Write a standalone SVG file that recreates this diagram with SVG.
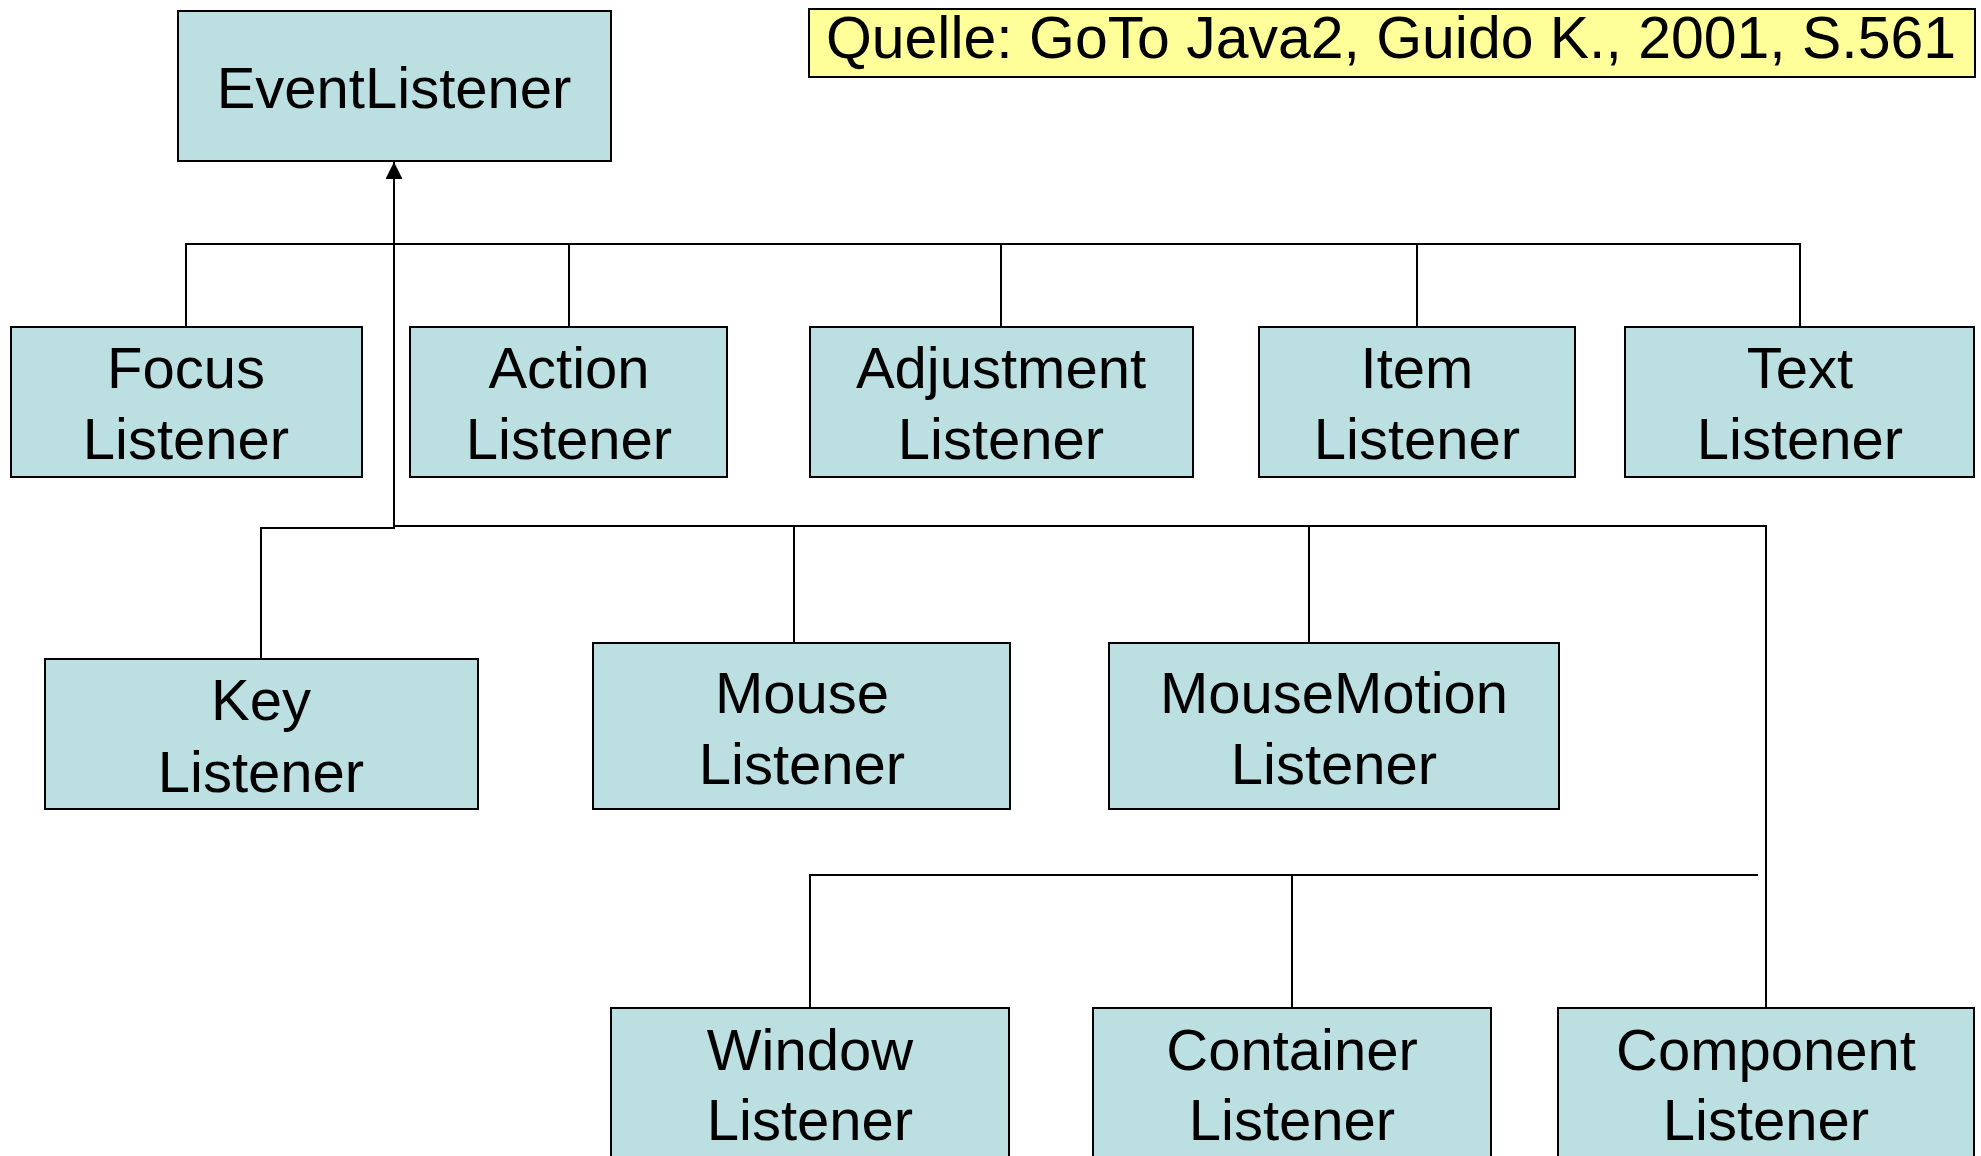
<svg xmlns="http://www.w3.org/2000/svg" width="1981" height="1156" viewBox="0 0 1981 1156">
<style>
.box{fill:#BCE0E2;stroke:#000;stroke-width:2}
.lbl{font-family:"Liberation Sans",Arial,sans-serif;font-size:58px;fill:#000;text-anchor:middle}
.ln{fill:none;stroke:#000;stroke-width:2}
</style>
<defs>
<marker id="arr" markerWidth="18" markerHeight="17" refX="17" refY="8.5" orient="auto" markerUnits="userSpaceOnUse">
<path d="M0,0 L17,8.5 L0,17 Z" fill="#000"/>
</marker>
</defs>
<rect width="1981" height="1156" fill="#fff"/>
<g id="connectors">
<line class="ln" x1="394" y1="526" x2="394" y2="162" marker-end="url(#arr)"/>
<polyline class="ln" points="186,327 186,244 1800,244 1800,327"/>
<line class="ln" x1="569" y1="244" x2="569" y2="327"/>
<line class="ln" x1="1001" y1="244" x2="1001" y2="327"/>
<line class="ln" x1="1417" y1="244" x2="1417" y2="327"/>
<polyline class="ln" points="394,526 394,528 261,528 261,659"/>
<polyline class="ln" points="394,526 1766,526 1766,1008"/>
<line class="ln" x1="794" y1="526" x2="794" y2="643"/>
<line class="ln" x1="1309" y1="526" x2="1309" y2="643"/>
<polyline class="ln" points="810,1008 810,875 1758,875"/>
<line class="ln" x1="1292" y1="875" x2="1292" y2="1008"/>
</g>
<g id="source">
<rect x="809" y="9" width="1166" height="68" fill="#FFFF99" stroke="#000" stroke-width="2"/>
<text x="1391" y="58" font-family="Liberation Sans,Arial,sans-serif" font-size="59" text-anchor="middle" textLength="1130" lengthAdjust="spacingAndGlyphs">Quelle: GoTo Java2, Guido K., 2001, S.561</text>
</g>
<g id="EventListener"><rect class="box" x="178" y="11" width="433" height="150"/><text class="lbl" x="394" y="108">EventListener</text></g>
<g id="FocusListener"><rect class="box" x="11" y="327" width="351" height="150"/><text class="lbl" x="186" y="388">Focus</text><text class="lbl" x="186" y="459">Listener</text></g>
<g id="ActionListener"><rect class="box" x="410" y="327" width="317" height="150"/><text class="lbl" x="569" y="388">Action</text><text class="lbl" x="569" y="459">Listener</text></g>
<g id="AdjustmentListener"><rect class="box" x="810" y="327" width="383" height="150"/><text class="lbl" x="1001" y="388">Adjustment</text><text class="lbl" x="1001" y="459">Listener</text></g>
<g id="ItemListener"><rect class="box" x="1259" y="327" width="316" height="150"/><text class="lbl" x="1417" y="388">Item</text><text class="lbl" x="1417" y="459">Listener</text></g>
<g id="TextListener"><rect class="box" x="1625" y="327" width="349" height="150"/><text class="lbl" x="1800" y="388">Text</text><text class="lbl" x="1800" y="459">Listener</text></g>
<g id="KeyListener"><rect class="box" x="45" y="659" width="433" height="150"/><text class="lbl" x="261" y="720">Key</text><text class="lbl" x="261" y="792">Listener</text></g>
<g id="MouseListener"><rect class="box" x="593" y="643" width="417" height="166"/><text class="lbl" x="802" y="713">Mouse</text><text class="lbl" x="802" y="784">Listener</text></g>
<g id="MouseMotionListener"><rect class="box" x="1109" y="643" width="450" height="166"/><text class="lbl" x="1334" y="713">MouseMotion</text><text class="lbl" x="1334" y="784">Listener</text></g>
<g id="WindowListener"><rect class="box" x="611" y="1008" width="398" height="152"/><text class="lbl" x="810" y="1070">Window</text><text class="lbl" x="810" y="1140">Listener</text></g>
<g id="ContainerListener"><rect class="box" x="1093" y="1008" width="398" height="152"/><text class="lbl" x="1292" y="1070">Container</text><text class="lbl" x="1292" y="1140">Listener</text></g>
<g id="ComponentListener"><rect class="box" x="1558" y="1008" width="416" height="152"/><text class="lbl" x="1766" y="1070">Component</text><text class="lbl" x="1766" y="1140">Listener</text></g>
</svg>
